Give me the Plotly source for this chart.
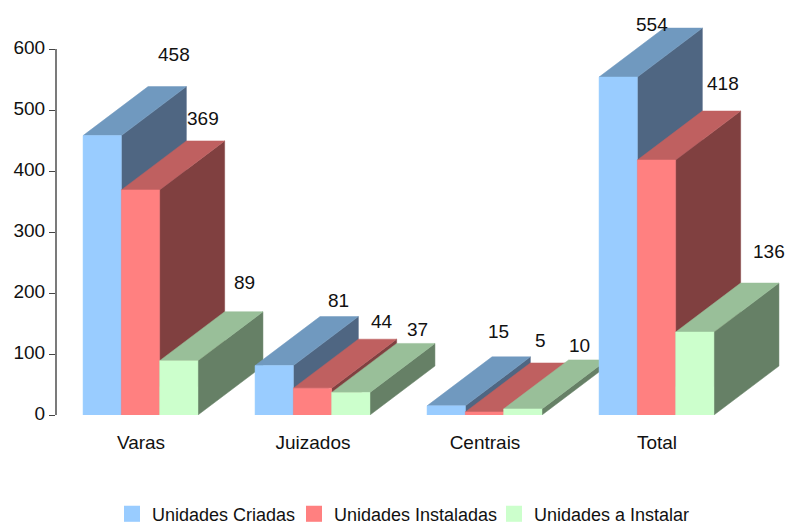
import plotly.graph_objects as go

categories = ["Varas", "Juizados", "Centrais", "Total"]
series_names = ["Unidades Criadas", "Unidades Instaladas", "Unidades a Instalar"]
criadas = [458, 81, 15, 554]
instaladas = [369, 44, 5, 418]
a_instalar = [89, 37, 10, 136]
y_ticks = [0, 100, 200, 300, 400, 500, 600]

front_colors = ["#99CCFF", "#FF8080", "#CCFFCC"]
top_colors = ["#7099BF", "#BF6060", "#99BF99"]
side_colors = ["#4F6682", "#804040", "#668066"]

# geometry of the oblique projection, in axis units
BAR_W = 38.3 / 172
DEPTH_X = 65 / 172
DEPTH_Y = 49 / 0.61

label_shifts = [
    [(72, 81), (62, 71), (66, 78)],
    [(64, 65), (69, 67), (67, 63)],
    [(52, 74), (56, 71), (57, 63)],
    [(34, 53), (66, 77), (74, 81)],
]

W, H = 788, 525
ML, MB = 56, 110
FONT = "Liberation Sans"
TXT = "#111111"
series = [criadas, instaladas, a_instalar]
fig = go.Figure()


def face(xs, ys, color):
    fig.add_trace(go.Scatter(
        x=xs, y=ys, mode="lines", fill="toself", fillcolor=color,
        line=dict(color=color, width=0.5), showlegend=False, hoverinfo="skip",
    ))


annotations = []
for c in range(len(categories)):
    for s in range(3):
        v = series[s][c]
        x0 = c + (s - 1.5) * BAR_W - 0.5 / 172
        x1 = x0 + BAR_W
        face([x1, x1 + DEPTH_X, x1 + DEPTH_X, x1, x1], [0, DEPTH_Y, v + DEPTH_Y, v, 0], side_colors[s])
        face([x0, x1, x1 + DEPTH_X, x0 + DEPTH_X, x0], [v, v, v + DEPTH_Y, v + DEPTH_Y, v], top_colors[s])
        face([x0, x1, x1, x0, x0], [0, 0, v, v, 0], front_colors[s])
        sx, sy = label_shifts[c][s]
        annotations.append(dict(
            x=(x0 + x1) / 2, y=v, text=str(v), showarrow=False, xshift=sx, yshift=sy,
            xanchor="center", yanchor="middle", font=dict(family=FONT, size=19, color=TXT),
        ))

legend_ids = ["legend", "legend2", "legend3"]
legend_left = [112, 294, 494]
for s in range(3):
    fig.add_trace(go.Scatter(
        x=[None], y=[None], mode="markers", name=series_names[s], legend=legend_ids[s],
        marker=dict(symbol="square", size=16, color=front_colors[s]), showlegend=True,
    ))

legend_layout = {
    legend_ids[s]: dict(
        orientation="h", xref="container", yref="container",
        x=legend_left[s] / W, y=0.056, xanchor="left", yanchor="top",
        font=dict(family=FONT, size=18, color=TXT),
        bgcolor="rgba(0,0,0,0)", itemwidth=30,
    )
    for s in range(3)
}

fig.update_layout(
    width=W, height=H, autosize=False,
    margin=dict(l=ML, r=0, t=0, b=MB),
    paper_bgcolor="white", plot_bgcolor="white",
    annotations=annotations,
    shapes=[dict(type="line", xref="paper", x0=0, x1=0, yref="y", y0=0, y1=600,
                 line=dict(color="#222222", width=1.2))],
    showlegend=True,
    xaxis=dict(
        range=[(56 - 141) / 172, (788 - 141) / 172], tickmode="array",
        tickvals=list(range(len(categories))), ticktext=categories,
        showgrid=False, zeroline=False, showline=False, ticks="",
        tickfont=dict(family=FONT, size=19, color=TXT), ticklabelstandoff=14,
    ),
    yaxis=dict(
        range=[0, (H - MB) / 0.61], tickmode="array", tickvals=y_ticks,
        showgrid=False, zeroline=False, showline=False, ticks="outside",
        ticklen=6, tickcolor="#444444", tickwidth=1, ticklabelshift=-2,
        tickfont=dict(family=FONT, size=19, color=TXT),
    ),
    **legend_layout,
)

fig.write_html(
    "out.html",
    config={"displayModeBar": False},
    post_script="document.body.style.margin='0';document.documentElement.style.overflow='hidden';",
)
